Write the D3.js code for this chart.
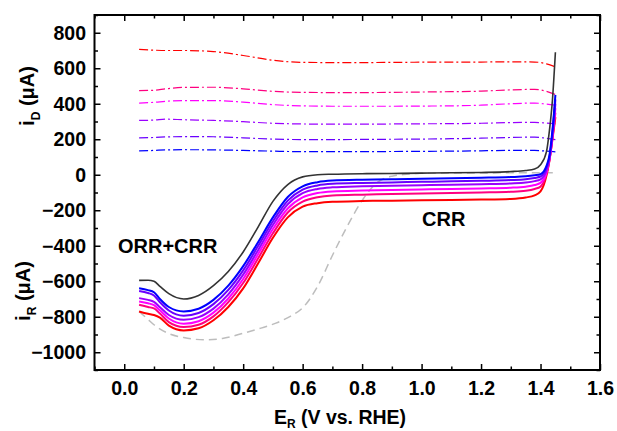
<!DOCTYPE html>
<html>
<head>
<meta charset="utf-8">
<script src="https://cdn.jsdelivr.net/npm/d3@7"></script>
<style>
  html, body { margin: 0; padding: 0; background: #fff; }
  svg text { font-family: "Liberation Sans", Arial, sans-serif; font-weight: bold; fill: #000; }
</style>
</head>
<body>
<svg id="chart" width="617" height="431"></svg>
<script>
// ---------- data ----------
const xMajorTicks = [0, 0.2, 0.4, 0.6, 0.8, 1.0, 1.2, 1.4, 1.6];
const xMinorTicks = [-0.1, 0.1, 0.3, 0.5, 0.7, 0.9, 1.1, 1.3, 1.5];
const yMajorTicks = [-1000, -800, -600, -400, -200, 0, 200, 400, 600, 800];
const yMinorTicks = [-1100, -900, -700, -500, -300, -100, 100, 300, 500, 700, 900];

const seriesColors = ["#0000ff", "#6a00ff", "#9a00ff", "#ff00ff", "#ff0080", "#ff0000"];

// ring current (solid lines)
const ringE = [0.05, 0.08, 0.1, 0.12, 0.15, 0.2, 0.25, 0.3, 0.35, 0.4, 0.45, 0.5, 0.55, 0.6, 0.65, 0.7, 0.8, 0.9, 1.0, 1.1, 1.2, 1.3, 1.35, 1.38, 1.4, 1.42, 1.43, 1.44, 1.45];
const ringBlack   = [-595, -594, -600, -629, -670, -700, -680, -625, -545, -435, -295, -150, -55, -12, 0, 3, 6, 7, 9, 11, 13, 18, 24, 32, 56, 130, 250, 420, 690];
const ringBlue    = [-640, -650, -662, -700, -745, -770, -755, -705, -625, -515, -380, -240, -125, -65, -42, -33, -28, -26, -23, -20, -17, -13, -9, -3, 3, 50, 110, 250, 450];
const ringViolet  = [-655, -666, -680, -718, -765, -794, -779, -729, -649, -539, -402, -262, -146, -84, -60, -51, -46, -43, -40, -37, -34, -30, -25, -18, -10, 38, 100, 235, 425];
const ringPurple  = [-695, -705, -716, -746, -790, -817, -802, -754, -674, -563, -425, -283, -166, -104, -80, -71, -65, -62, -59, -56, -53, -49, -44, -36, -26, 24, 90, 220, 400];
const ringMagenta = [-714, -724, -735, -764, -810, -839, -825, -777, -697, -587, -448, -306, -190, -128, -103, -94, -89, -86, -83, -80, -77, -73, -67, -58, -46, 12, 85, 210, 375];
const ringPink    = [-732, -745, -753, -782, -830, -858, -845, -798, -718, -610, -472, -330, -213, -152, -127, -117, -112, -109, -106, -103, -100, -96, -90, -80, -67, 5, 82, 205, 350];
const ringRed     = [-770, -783, -790, -805, -850, -877, -865, -820, -745, -640, -500, -355, -240, -180, -160, -152, -148, -146, -144, -142, -140, -136, -128, -116, -94, -5, 80, 200, 325];

// disk current (dash-dot lines)
const diskE = [0.05, 0.1, 0.14, 0.2, 0.3, 0.4, 0.5, 0.6, 0.7, 0.8, 0.9, 1.0, 1.1, 1.2, 1.3, 1.38, 1.42, 1.45];
const diskBlue    = [134, 137, 140, 141, 140, 137, 133, 130, 130, 130, 131, 132, 133, 135, 137, 137, 133, 129];
const diskViolet  = [208, 210, 213, 215, 214, 208, 201, 198, 198, 199, 200, 201, 203, 206, 210, 212, 205, 198];
const diskPurple  = [306, 308, 313, 310, 306, 299, 290, 286, 285, 285, 286, 287, 288, 290, 294, 295, 291, 287];
const diskMagenta = [404, 408, 414, 418, 418, 409, 395, 388, 386, 386, 386, 387, 388, 392, 400, 404, 398, 392];
const diskPink    = [474, 476, 484, 492, 493, 484, 470, 464, 463, 463, 464, 466, 468, 471, 478, 481, 470, 452];
const diskRed     = [706, 702, 700, 700, 694, 672, 645, 633, 632, 632, 633, 634, 634, 635, 636, 635, 625, 608];

// background (gray dashed)
const bgE   = [0.05, 0.08, 0.1, 0.15, 0.2, 0.27, 0.33, 0.4, 0.46, 0.51, 0.56, 0.6, 0.65, 0.7, 0.75, 0.8, 0.85, 0.9, 0.95, 1.0, 1.2, 1.45];
const bgVal = [-770, -815, -845, -895, -917, -930, -922, -893, -864, -836, -796, -750, -630, -455, -290, -145, -45, -8, 3, 8, 10, 12];

// ---------- layout ----------
const svg = d3.select("#chart");
const L = 94.5, R = 600, T = 15, B = 370;
const x = d3.scaleLinear().domain([-0.1, 1.6]).range([L, R]);
const y = d3.scaleLinear().domain([-1100, 900]).range([B, T]);

const line = d3.line().x(d => x(d[0])).y(d => y(d[1])).curve(d3.curveMonotoneX);
const zip = (a, b) => a.map((v, i) => [v, b[i]]);

const plot = svg.append("g");

// background dashed
plot.append("path").datum(zip(bgE, bgVal)).attr("d", line)
  .attr("fill", "none").attr("stroke", "#bdbdbd").attr("stroke-width", 1.5)
  .attr("stroke-dasharray", "8,5");

// disk curves
const disks = [diskBlue, diskViolet, diskPurple, diskMagenta, diskPink, diskRed];
disks.forEach((s, i) => {
  plot.append("path").datum(zip(diskE, s)).attr("d", line)
    .attr("fill", "none").attr("stroke", seriesColors[i]).attr("stroke-width", 1.2)
    .attr("stroke-dasharray", "9,3,2,3");
});

// ring curves
const rings = [ringBlue, ringViolet, ringPurple, ringMagenta, ringPink, ringRed];
rings.slice().reverse().forEach((s, j) => {
  const i = rings.length - 1 - j;
  plot.append("path").datum(zip(ringE, s)).attr("d", line)
    .attr("fill", "none").attr("stroke", seriesColors[i]).attr("stroke-width", 2);
});
plot.append("path").datum(zip(ringE, ringBlack)).attr("d", line)
  .attr("fill", "none").attr("stroke", "#333333").attr("stroke-width", 1.6);

// ---------- axes ----------
const fs = "19.5px";
function styleAxis(g) {
  g.select(".domain").remove();
  g.selectAll(".tick line").attr("stroke", "#000").attr("stroke-width", 1.5);
  g.selectAll("text").style("font-size", fs).style("font-family", '"Liberation Sans", Arial, sans-serif').style("font-weight", "bold");
}
// bottom
svg.append("g").attr("transform", `translate(0,${B})`)
  .call(d3.axisBottom(x).tickValues(xMajorTicks).tickSize(-6).tickPadding(11).tickFormat(d3.format(".1f")))
  .call(styleAxis);
svg.append("g").attr("transform", `translate(0,${B})`)
  .call(d3.axisBottom(x).tickValues(xMinorTicks).tickSize(-3.5).tickFormat(""))
  .call(styleAxis);
// top
svg.append("g").attr("transform", `translate(0,${T})`)
  .call(d3.axisTop(x).tickValues(xMajorTicks).tickSize(-6).tickFormat(""))
  .call(styleAxis);
svg.append("g").attr("transform", `translate(0,${T})`)
  .call(d3.axisTop(x).tickValues(xMinorTicks).tickSize(-3.5).tickFormat(""))
  .call(styleAxis);
// left
svg.append("g").attr("transform", `translate(${L},0)`)
  .call(d3.axisLeft(y).tickValues(yMajorTicks).tickSize(-6).tickPadding(8.5).tickFormat(d3.format("d")))
  .call(styleAxis);
svg.append("g").attr("transform", `translate(${L},0)`)
  .call(d3.axisLeft(y).tickValues(yMinorTicks).tickSize(-3.5).tickFormat(""))
  .call(styleAxis);
// right
svg.append("g").attr("transform", `translate(${R},0)`)
  .call(d3.axisRight(y).tickValues(yMajorTicks).tickSize(-6).tickFormat(""))
  .call(styleAxis);
svg.append("g").attr("transform", `translate(${R},0)`)
  .call(d3.axisRight(y).tickValues(yMinorTicks).tickSize(-3.5).tickFormat(""))
  .call(styleAxis);

// frame
svg.append("rect").attr("x", L).attr("y", T).attr("width", R - L).attr("height", B - T)
  .attr("fill", "none").attr("stroke", "#000").attr("stroke-width", 2);

// ---------- titles ----------
const xt = svg.append("text").attr("x", 340).attr("y", 424).attr("text-anchor", "middle").style("font-size", "19.5px");
xt.append("tspan").text("E");
xt.append("tspan").attr("dy", 4).style("font-size", "12px").text("R");
xt.append("tspan").attr("dy", -4).text(" (V vs. RHE)");

function yTitle(cx, cy, sub) {
  const t = svg.append("text").attr("transform", `translate(${cx},${cy}) rotate(-90)`)
    .attr("text-anchor", "middle").style("font-size", "20px");
  t.append("tspan").text("i");
  t.append("tspan").attr("dy", 6).style("font-size", "12px").text(sub);
  t.append("tspan").attr("dy", -6).text(" (\u03bcA)");
}
yTitle(34, 96, "D");
yTitle(29.5, 291, "R");

svg.append("text").attr("x", 118).attr("y", 253).style("font-size", "20px").text("ORR+CRR");
svg.append("text").attr("x", 422).attr("y", 226).style("font-size", "20px").text("CRR");
</script>
</body>
</html>
